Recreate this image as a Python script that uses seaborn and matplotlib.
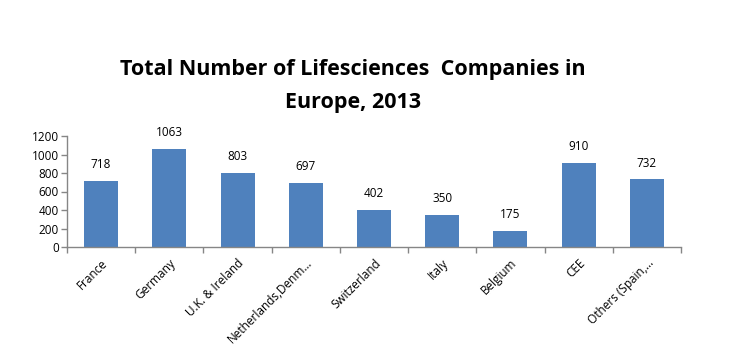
import matplotlib
matplotlib.use("Agg")
import matplotlib.pyplot as plt
import seaborn as sns
import pandas as pd

categories = ["France", "Germany", "U.K. & Ireland", "Netherlands,Denm…", "Switzerland",
              "Italy", "Belgium", "CEE", "Others (Spain,…"]
values = [718, 1063, 803, 697, 402, 350, 175, 910, 732]
yticks = [0, 200, 400, 600, 800, 1000, 1200]

sns.set_theme(style="white")
plt.rcParams['font.family'] = ['Open Sans', 'DejaVu Sans']
plt.rcParams['text.color'] = 'black'
plt.rcParams['xtick.color'] = 'black'
plt.rcParams['ytick.color'] = 'black'

df = pd.DataFrame({"cat": categories, "val": values})
fig = plt.figure(figsize=(7.29, 3.45), dpi=100)
ax = fig.add_axes([67/729, 1-247/345, (681-67)/729, (247-136)/345])
sns.barplot(data=df, x="cat", y="val", color="#4F81BD", saturation=1, width=0.5, ax=ax,
            linewidth=0)

ax.set_xlim(-0.5, len(categories)-0.5)
ax.set_ylim(0, 1200)
ax.set_yticks(yticks)
ax.set_yticklabels([str(t) for t in yticks], fontsize=8.5, color="black")
ax.set_xlabel("")
ax.set_ylabel("")
ax.set_xticks(range(len(categories)))
ax.set_xticklabels(categories, rotation=45, ha="right", rotation_mode="anchor", fontsize=8.5,
                   color="black")
ax.tick_params(axis="x", length=0, pad=7)
ax.set_xticks([i-0.5 for i in range(len(categories)+1)], minor=True)
ax.tick_params(axis="x", which="minor", length=4, color="#868686", width=1, direction="out", bottom=True)
ax.tick_params(axis="y", length=4, color="#868686", width=1, direction="out", left=True, pad=2)

for s in ["top", "right"]:
    ax.spines[s].set_visible(False)
for s in ["left", "bottom"]:
    ax.spines[s].set_color("#868686")
    ax.spines[s].set_linewidth(1)

for i, v in enumerate(values):
    ax.annotate(str(v), (i, v), xytext=(0, 7), textcoords="offset points",
                ha="center", va="bottom", fontsize=8.5, color="black")

fig.text(353/729, 1-70/345, "Total Number of Lifesciences  Companies in", ha="center", va="center",
         fontsize=15.5, fontweight="bold", color="black")
fig.text(353/729, 1-102/345, "Europe, 2013", ha="center", va="center",
         fontsize=15.5, fontweight="bold", color="black")

fig.savefig("out.png", dpi=100, facecolor="white")
